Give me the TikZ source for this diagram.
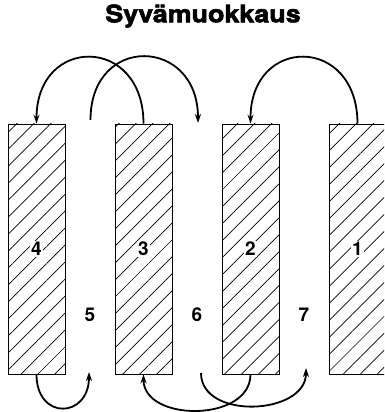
\documentclass[tikz,border=0pt]{standalone}
\usepackage{fontspec}
\setsansfont{TeX Gyre Heros}
\newfontfamily\titlefont[FakeStretch=1.12,BoldFeatures={FakeBold=2.5}]{TeX Gyre Heros}
\usetikzlibrary{patterns.meta,arrows.meta}
\begin{document}
\begin{tikzpicture}[x=1pt,y=1pt,
  strip/.style={draw, line width=0.7pt, minimum width=57pt, minimum height=250pt,
    pattern={Lines[angle=45,distance=12pt,line width=0.7pt]}},
  num/.style={fill=white, inner sep=1pt, font=\sffamily\bfseries\fontsize{19}{19}\selectfont},
  arr/.style={line width=1.8pt, -{Stealth[length=9pt,width=6pt,inset=3pt]}}]
  \clip (0,0) rectangle (384,412);
  \node[font=\titlefont\bfseries\fontsize{24}{24}\selectfont] (title) at (203,396) {Syvämuokkaus};
  % strips and their numbers
  \foreach \n [count=\i from 0] in {4,3,2,1} {
    \node[strip] (r\n) at ({36.5+107*\i},163) {};
    \node[num] (n\n) at (r\n) {\n};
  }
  \node[num] (n5) at (90,97) {5};
  \node[num] (n6) at (197,97) {6};
  \node[num] (n7) at (304,97) {7};
  % free ends in the gaps
  \coordinate (g5t) at (90.5,292);
  \coordinate (g6t) at (198,289);
  \coordinate (g5b) at (89,40);
  \coordinate (g6b) at (201,39);
  \coordinate (g7b) at (306,44);
  % moves over the top
  \draw[arr] (r3.north) to[out=90,in=90,looseness=2.12] (r4.north);
  \draw[arr] (g5t) to[out=90,in=90,looseness=2.05] (g6t);
  \draw[arr] (r1.north) to[out=90,in=90,looseness=2.12] (r2.north);
  % moves under the bottom
  \draw[arr] (r4.south) to[out=-90,in=-90,looseness=2.26] (g5b);
  \draw[arr] (r2.south) to[out=-90,in=-90,looseness=1.15] (r3.south);
  \draw[arr] (g6b) to[out=-90,in=-90,looseness=1.15] (g7b);
\end{tikzpicture}
\end{document}
